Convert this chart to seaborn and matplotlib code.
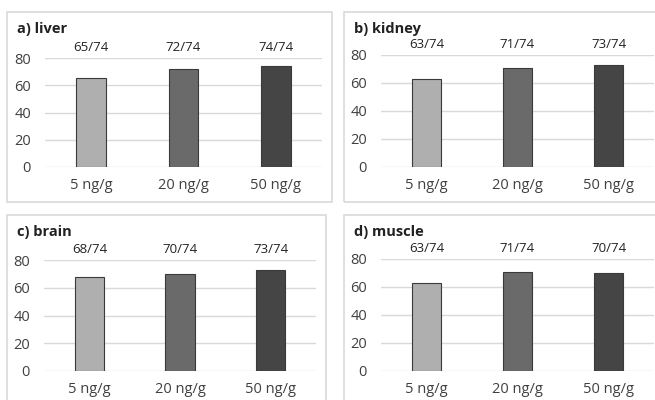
import matplotlib
matplotlib.use("Agg")
import matplotlib.pyplot as plt
from matplotlib.patches import Rectangle
import seaborn as sns
import pandas as pd

sns.set_theme(style="white")
plt.rcParams["font.family"] = ["Open Sans", "DejaVu Sans"]

doses = ["5 ng/g", "20 ng/g", "50 ng/g"]
total = 74
liver = [65, 72, 74]
kidney = [63, 71, 73]
brain = [68, 70, 73]
muscle = [63, 71, 70]
titles = ["a) liver", "b) kidney", "c) brain", "d) muscle"]
bar_colors = ["#afafaf", "#6a6a6a", "#454545"]

W, H = 655, 400
fig = plt.figure(figsize=(W / 100, H / 100), dpi=100)

# pixel layout: (box left, box top, box right, box bottom, axes left, axes top, axes right, axes bottom)
layout = [
    (7, 12, 332, 202, 45, 58, 322, 167),
    (344, 12, 662, 202, 381, 55, 654, 167),
    (7, 215, 326, 408, 44, 260, 316, 371),
    (344, 215, 662, 408, 381, 259, 654, 371),
]
series = [liver, kidney, brain, muscle]

for (bl, bt, br, bb, al, at, ar, ab), vals, title in zip(layout, series, titles):
    fig.patches.append(Rectangle((bl / W, 1 - bb / H), (br - bl) / W, (bb - bt) / H,
                                 transform=fig.transFigure, fill=False,
                                 edgecolor="#d9d9d9", linewidth=1.2))
    ax = fig.add_axes([al / W, 1 - ab / H, (ar - al) / W, (ab - at) / H])
    df = pd.DataFrame({"dose": doses, "count": vals})
    sns.barplot(data=df, x="dose", y="count", hue="dose", palette=bar_colors,
                legend=False, width=0.32, edgecolor="#3a3a3a", linewidth=0.8, ax=ax)
    ax.set_ylim(0, 80)
    ax.set_xlim(-0.5, 2.5)
    ax.set_yticks([0, 20, 40, 60, 80])
    ax.yaxis.grid(True, color="#d9d9d9", linewidth=1)
    ax.set_axisbelow(True)
    for s in ax.spines.values():
        s.set_visible(False)
    ax.set_xlabel("")
    ax.set_ylabel("")
    ax.tick_params(axis="both", length=0, labelsize=10.5, colors="#404040", pad=8)
    ax.tick_params(axis="y", pad=10)
    for i, v in enumerate(vals):
        ax.annotate(f"{v}/{total}", xy=(i, 80), xytext=(0, 3), textcoords="offset points",
                    ha="center", va="bottom", fontsize=9.5, color="#222222")
    fig.text((bl + 10) / W, 1 - (bt + 17) / H, title, fontsize=10.5, fontweight="bold",
             color="#222222", va="center", ha="left")

fig.savefig("out.png", dpi=100)
